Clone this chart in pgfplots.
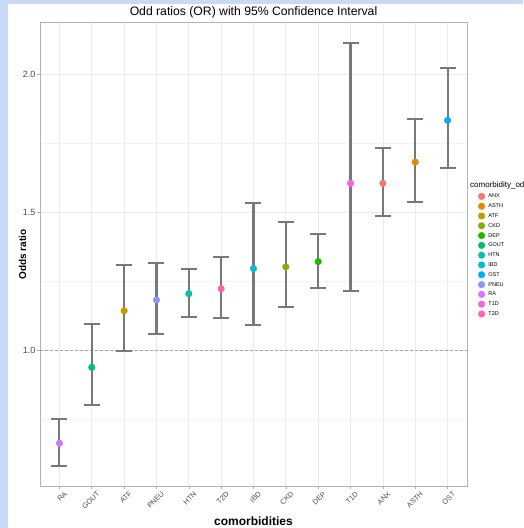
\documentclass[border=0pt]{standalone}
\usepackage{pgfplots}
\usepackage{pgfplotstable}
\pgfplotsset{compat=1.18}
\usepackage{fontspec}
\setmainfont{Liberation Sans}
\definecolor{bgblue}{HTML}{C9DAF6}
\definecolor{cANX}{HTML}{F8766D}
\definecolor{cASTH}{HTML}{E18A00}
\definecolor{cATF}{HTML}{BE9C00}
\definecolor{cCKD}{HTML}{8CAB00}
\definecolor{cDEP}{HTML}{24B700}
\definecolor{cGOUT}{HTML}{00BE70}
\definecolor{cHTN}{HTML}{00C1AB}
\definecolor{cIBD}{HTML}{00BBDA}
\definecolor{cOST}{HTML}{00ACFC}
\definecolor{cPNEU}{HTML}{8B93FF}
\definecolor{cRA}{HTML}{D575FE}
\definecolor{cTID}{HTML}{F962DD}
\definecolor{cTIID}{HTML}{FF65AC}
\definecolor{errc}{HTML}{787878}
\definecolor{bordc}{HTML}{B3B3B3}
\definecolor{gridc}{HTML}{EBEBEB}
\definecolor{gridm}{HTML}{F3F3F3}
\definecolor{tickc}{HTML}{4D4D4D}
\pgfplotstableread{
x y lo hi cls
1 0.662 0.581 0.751 RA
2 0.937 0.801 1.094 GOUT
3 1.142 0.997 1.308 ATF
4 1.181 1.059 1.316 PNEU
5 1.204 1.121 1.293 HTN
6 1.222 1.117 1.337 T2D
7 1.295 1.091 1.534 IBD
8 1.301 1.156 1.464 CKD
9 1.320 1.226 1.421 DEP
10 1.604 1.214 2.112 T1D
11 1.604 1.487 1.733 ANX
12 1.681 1.537 1.837 ASTH
13 1.832 1.660 2.023 OST
}\datatable
\begin{document}
\begin{tikzpicture}
\path[use as bounding box] (0pt,0pt) rectangle (523pt,528pt);
\fill[bgblue] (0pt,0pt) rectangle (523pt,528pt);
\fill[white] (7.5pt,0pt) rectangle (523pt,524pt);
\begin{axis}[
  at={(40pt,42pt)}, anchor=south west, scale only axis,
  width=427pt, height=463.3pt,
  xmin=0.4, xmax=13.6, ymin=0.507, ymax=2.186,
  xtick={1,2,3,4,5,6,7,8,9,10,11,12,13},
  xticklabels={RA,GOUT,ATF,PNEU,HTN,T2D,IBD,CKD,DEP,T1D,ANX,ASTH,OST},
  ytick={1,1.5,2},
  minor ytick={0.75,1.25,1.75},
  grid=both,
  major grid style={draw=gridc, line width=0.7pt},
  minor grid style={draw=gridm, line width=0.5pt},
  axis line style={draw=bordc, line width=0.9pt},
  tick align=outside, xtick pos=bottom, ytick pos=left,
  major tick length=3pt, minor tick length=0pt,
  tick style={draw=bordc, line width=0.6pt},
  yticklabel style={font=\fontsize{9}{10}\selectfont, text=tickc, inner sep=1.5pt},
  xticklabel style={font=\fontsize{7.3}{8}\selectfont, text=tickc, rotate=45, anchor=north east, inner sep=1pt, yshift=-3.5pt, xshift=3pt},
  /pgf/number format/.cd, fixed, fixed zerofill, precision=1, assume math mode=true,
  /pgfplots/.cd,
  xlabel={\bfseries comorbidities},
  xlabel style={font=\fontsize{12}{14}\selectfont, at={(axis description cs:0.5,-0.0863)}, anchor=base, inner sep=0pt},
  ylabel={\bfseries Odds ratio},
  ylabel style={font=\fontsize{10}{12}\selectfont, at={(axis description cs:-0.032,0.5)}, anchor=south, inner sep=0pt},
  legend style={at={(axis description cs:1.019,0.637)}, anchor=north west, draw=none, fill=none,
    font=\fontsize{5.5}{6}\selectfont, row sep=3.2pt,
    nodes={inner sep=0.5pt, text height=4pt, text depth=1pt},
    /tikz/every odd column/.append style={column sep=3pt}},
  legend cell align=left,
  clip=false,
  unbounded coords=jump,
]
\addplot[forget plot, draw=errc, dash pattern=on 3pt off 2pt, line width=0.6pt, draw opacity=0.6] coordinates {(0.4,1) (13.6,1)};
% confidence interval stems (lo to hi of each category)
\addplot[forget plot, draw=errc, line width=2.1pt, mark=none] coordinates {
(1,0.581) (1,0.751) (1,nan)
(2,0.801) (2,1.094) (2,nan)
(3,0.997) (3,1.308) (3,nan)
(4,1.059) (4,1.316) (4,nan)
(5,1.121) (5,1.293) (5,nan)
(6,1.117) (6,1.337) (6,nan)
(7,1.091) (7,1.534) (7,nan)
(8,1.156) (8,1.464) (8,nan)
(9,1.226) (9,1.421) (9,nan)
(10,1.214) (10,2.112) (10,nan)
(11,1.487) (11,1.733) (11,nan)
(12,1.537) (12,1.837) (12,nan)
(13,1.660) (13,2.023)
};
\addplot[forget plot, only marks, mark=-, mark size=8pt, mark options={draw=errc, line width=1.9pt}]
  table[x=x, y=lo] {\datatable};
\addplot[forget plot, only marks, mark=-, mark size=8pt, mark options={draw=errc, line width=1.9pt}]
  table[x=x, y=hi] {\datatable};
\addplot[scatter, only marks, mark=*, mark size=3.3pt, scatter src=explicit symbolic,
  scatter/classes={
    ANX={cANX}, ASTH={cASTH}, ATF={cATF}, CKD={cCKD}, DEP={cDEP}, GOUT={cGOUT},
    HTN={cHTN}, IBD={cIBD}, OST={cOST}, PNEU={cPNEU}, RA={cRA}, T1D={cTID}, T2D={cTIID}}]
  table[x=x, y=y, meta=cls] {\datatable};
\legend{ANX,ASTH,ATF,CKD,DEP,GOUT,HTN,IBD,OST,PNEU,RA,T1D,T2D}
\node[font=\fontsize{8}{9}\selectfont, anchor=base west, inner sep=0pt] at (axis description cs:1.007,0.645) {comorbidity\_odds};
\node[font=\fontsize{12.2}{14}\selectfont, anchor=base, inner sep=0pt] at (axis description cs:0.5,1.0145) {Odd ratios (OR) with 95\% Confidence Interval};
\end{axis}
\end{tikzpicture}
\end{document}
